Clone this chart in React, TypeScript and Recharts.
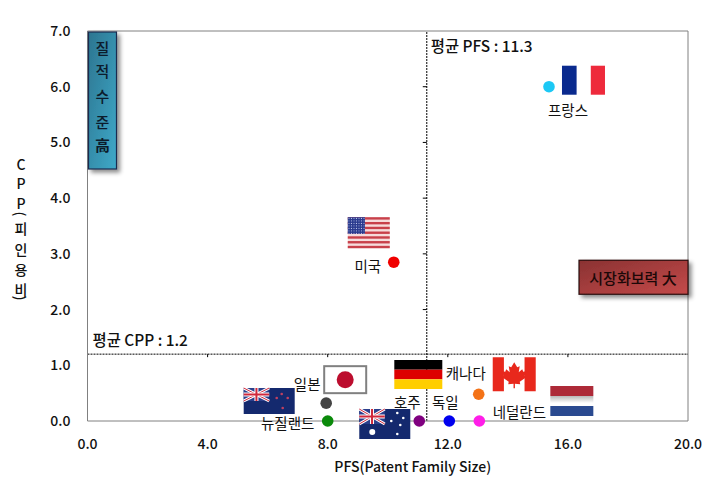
import {
  ScatterChart,
  Scatter,
  XAxis,
  YAxis,
  ReferenceLine,
  ReferenceDot,
} from "recharts"

const countries = ["프랑스", "미국", "캐나다", "일본", "뉴질랜드", "호주", "독일", "네덜란드"]
const pfsValues = [15.37, 10.2, 13.03, 7.95, 8.0, 11.05, 12.05, 13.05]
const cppValues = [6.0, 2.85, 0.48, 0.32, 0.0, 0.0, 0.0, 0.0]
const xTicks = [0, 4, 8, 12, 16, 20]
const yTicks = [0, 1, 2, 3, 4, 5, 6, 7]
const avgPfs = 11.3
const avgCpp = 1.2

const dotColors = ["#1cc8f5", "#f00000", "#f47216", "#444444", "#0a8a0a", "#800080", "#0000ee", "#ff1ee8"]
// label centre and flag box, relative to the dot
const labelOffsets = [[19, 23], [-26, 3], [-13, -22], [-19, -20], [-40, 1], [-12, -20], [-4, -20], [40, -10]]
const flagBoxes = [
  [13, -21, 43, 29],
  [-46, -45, 42, 31],
  [14, -37, 43, 34],
  [-3, -38, 44, 29],
  [-84, -33, 51, 26],
  [-60, -12, 51, 30],
  [-55, -61, 48, 29],
  [71, -35, 43, 30],
]

const tableData = countries.map((name, i) => ({ name, x: pfsValues[i], y: cppValues[i], i }))

const FONT = '"Noto Sans CJK KR", "Noto Sans", sans-serif'
const FRAME = "#808080"

const UnionJack = ({ w, h }: { w: number; h: number }) => (
  <g>
    <rect width={w} height={h} fill="#2b3f8c" />
    <path d={`M0 0L${w} ${h}M${w} 0L0 ${h}`} stroke="#fff" strokeWidth={3} />
    <path d={`M0 0L${w} ${h}M${w} 0L0 ${h}`} stroke="#d0283c" strokeWidth={1} />
    <path d={`M${w / 2} 0V${h}M0 ${h / 2}H${w}`} stroke="#fff" strokeWidth={4} />
    <path d={`M${w / 2} 0V${h}M0 ${h / 2}H${w}`} stroke="#d0283c" strokeWidth={2} />
  </g>
)

const Stars = ({ pts, r = 1.3, fill = "#fff" }: { pts: number[][]; r?: number; fill?: string }) => (
  <g>
    {pts.map(([x, y], k) => (
      <circle key={k} cx={x} cy={y} r={r} fill={fill} />
    ))}
  </g>
)

function Flag({ i, w, h }: { i: number; w: number; h: number }) {
  if (i === 0) {
    return (
      <g>
        <rect width={w * 0.34} height={h} fill="#0a2a8e" />
        <rect x={w * 0.67} width={w * 0.33} height={h} fill="#ee2a3c" />
      </g>
    )
  }
  if (i === 1) {
    return (
      <g>
        <rect width={w} height={h} fill="#f6dcdc" />
        {[0, 1, 2, 3, 4, 5, 6].map((k) => (
          <rect key={k} y={(k * 2 * h) / 13} width={w} height={h / 13} fill="#c8404a" />
        ))}
        <rect width={w * 0.41} height={(h * 7) / 13} fill="url(#usStars)" />
      </g>
    )
  }
  if (i === 2) {
    return (
      <g>
        <rect width={w * 0.26} height={h} fill="#e8281c" />
        <rect x={w * 0.74} width={w * 0.26} height={h} fill="#e8281c" />
        <path
          transform={`translate(${w / 2} ${h / 2})`}
          d="M0 -12L3 -7L5.5 -8L4.5 -2L8 -5L9 -2.5L12 -3L10.5 1.5L12 3L5.5 7.5L6 10L0.7 9.5V14H-0.7V9.5L-6 10L-5.5 7.5L-12 3L-10.5 1.5L-12 -3L-9 -2.5L-8 -5L-4.5 -2L-5.5 -8L-3 -7Z"
          fill="#e8281c"
        />
      </g>
    )
  }
  if (i === 3) {
    return (
      <g>
        <rect x={1} y={1} width={w - 2} height={h - 2} fill="#fff" stroke="#808080" strokeWidth={2} />
        <circle cx={w / 2} cy={h / 2} r={8.5} fill="#bc0d2e" />
      </g>
    )
  }
  if (i === 4) {
    return (
      <g>
        <rect width={w} height={h} fill="#14296e" />
        <UnionJack w={w / 2} h={h / 2} />
        <Stars pts={[[38, 6], [33, 10], [44, 10], [39, 20]]} fill="#c04060" />
      </g>
    )
  }
  if (i === 5) {
    return (
      <g>
        <rect width={w} height={h} fill="#14296e" />
        <UnionJack w={w / 2} h={h / 2} />
        <Stars pts={[[38, 4], [32, 12], [44, 9], [41, 16], [38, 25]]} />
        <Stars pts={[[13, 23]]} r={3} />
      </g>
    )
  }
  if (i === 6) {
    return (
      <g>
        <rect width={w} height={h / 3} fill="#000" />
        <rect y={h / 3} width={w} height={h / 3} fill="#dd0000" />
        <rect y={(2 * h) / 3} width={w} height={h / 3} fill="#ffce00" />
      </g>
    )
  }
  return (
    <g>
      <rect width={w} height={h / 3} fill="#ad2a38" />
      <rect y={h / 3} width={w} height={h / 3} fill="url(#dutchWhite)" />
      <rect y={(2 * h) / 3} width={w} height={h / 3} fill="#2a4a90" />
    </g>
  )
}

function CountryDot(props: any) {
  const { cx, cy, payload } = props
  const i = payload.i
  const [fx, fy, fw, fh] = flagBoxes[i]
  const [lx, ly] = labelOffsets[i]
  return (
    <g>
      <g transform={`translate(${cx + fx} ${cy + fy})`}>
        <Flag i={i} w={fw} h={fh} />
      </g>
      <circle cx={cx} cy={cy} r={5.8} fill={dotColors[i]} />
      <text
        x={cx + lx}
        y={cy + ly}
        textAnchor="middle"
        dominantBaseline="central"
        fontFamily={FONT}
        fontSize={14.5}
        fill="#111"
      >
        {payload.name}
      </text>
    </g>
  )
}

const AvgText = ({ cx, cy, dx, dy, text }: any) => (
  <text
    x={cx + dx}
    y={cy + dy}
    dominantBaseline="central"
    fontFamily={FONT}
    fontSize={15.4}
    fontWeight={500}
    fill="#111"
  >
    {text}
  </text>
)

const qualityChars = ["질", "적", "수", "준", "高"]
const qualityRows = [16, 39, 64, 90, 113]

const QualityBox = ({ cx, cy }: any) => (
  <g transform={`translate(${cx} ${cy})`}>
    <rect x={1} y={1} width={28} height={137} fill="url(#quality)" stroke="#1c2c50" strokeWidth={1.2} filter="url(#soft)" />
    {qualityChars.map((c, k) => (
      <text key={c} x={15} y={qualityRows[k]} textAnchor="middle" dominantBaseline="central" fontFamily={FONT} fontSize={15} fontWeight={c === "高" ? 700 : 500} fill="#0c1c2c">
        {c}
      </text>
    ))}
  </g>
)

const MarketBox = ({ cx, cy }: any) => (
  <g transform={`translate(${cx} ${cy})`}>
    <rect x={-109} y={-17} width={109} height={34} fill="url(#market)" stroke="#2a0c0c" strokeWidth={1.2} filter="url(#soft)" />
    <text x={-55} y={0} textAnchor="middle" dominantBaseline="central" fontFamily={FONT} fontSize={15} fontWeight={500} fill="#1c0808">
      시장화보력 大
    </text>
  </g>
)

const yTitleChars = ["C", "P", "P", "(", "피", "인", "용", "비", ")"]
const yTitleRows = [164, 183, 203, 214, 228, 249, 269, 289, 298]

const YTitle = () => (
  <g>
    {yTitleChars.map((c, k) => (
      <text
        key={k}
        x={21}
        y={yTitleRows[k]}
        textAnchor="middle"
        dominantBaseline="central"
        fontFamily={FONT}
        fontSize={14}
        fontWeight={500}
        fill="#111"
        transform={c === "(" || c === ")" ? `rotate(90 21 ${yTitleRows[k]})` : undefined}
      >
        {c}
      </text>
    ))}
  </g>
)

const tickStyle = { fontFamily: FONT, fontSize: 14, fontWeight: 500, fill: "#111" }

export default function App() {
  return (
    <div style={{ position: "absolute", left: 0, top: 0, width: 715, height: 487 }}>
      <ScatterChart width={715} height={487} margin={{ top: 31, right: 27, bottom: 36, left: 27.5 }}>
        <defs>
          <linearGradient id="quality" x1="0" y1="0" x2="1" y2="1">
            <stop offset="0" stopColor="#2c7590" />
            <stop offset="1" stopColor="#3fa9c9" />
          </linearGradient>
          <linearGradient id="market" x1="0" y1="0" x2="1" y2="1">
            <stop offset="0" stopColor="#8a3232" />
            <stop offset="1" stopColor="#c44a4a" />
          </linearGradient>
          <linearGradient id="dutchWhite" x1="0" y1="0" x2="0" y2="1">
            <stop offset="0" stopColor="#b8b8b8" />
            <stop offset="0.7" stopColor="#ffffff" />
          </linearGradient>
          <pattern id="usStars" width={2.5} height={2.5} patternUnits="userSpaceOnUse">
            <rect width={2.5} height={2.5} fill="#2a3a8e" />
            <circle cx={1.2} cy={1.2} r={0.5} fill="#c8d0f0" />
          </pattern>
          <filter id="soft" x="-30%" y="-30%" width="160%" height="160%">
            <feDropShadow dx={3} dy={3} stdDeviation={2} floodColor="#000" floodOpacity={0.45} />
          </filter>
        </defs>
        <XAxis
          type="number"
          dataKey="x"
          domain={[0, 20]}
          ticks={xTicks}
          height={30}
          tickFormatter={(v: number) => v.toFixed(1)}
          tick={tickStyle}
          tickLine={false}
          tickMargin={12}
          axisLine={{ stroke: FRAME }}
          label={{
            value: "PFS(Patent Family Size)",
            position: "insideBottom",
            offset: -21,
            dx: 25,
            style: { fontFamily: FONT, fontSize: 14, fontWeight: 500, fill: "#111" },
          }}
        />
        <YAxis
          type="number"
          dataKey="y"
          domain={[0, 7]}
          ticks={yTicks}
          width={60}
          tickFormatter={(v: number) => v.toFixed(1)}
          tick={tickStyle}
          tickLine={false}
          tickMargin={11}
          axisLine={{ stroke: FRAME }}
        />
        <ReferenceLine y={7} stroke={FRAME} />
        <ReferenceLine x={20} stroke={FRAME} />
        <ReferenceLine x={avgPfs} stroke="#000" strokeDasharray="2 1" />
        <ReferenceLine y={avgCpp} stroke="#000" strokeDasharray="2 1" />
        {xTicks.slice(1, -1).map((v) => (
          <ReferenceDot
            key={`x${v}`}
            x={v}
            y={avgCpp}
            shape={({ cx, cy }: any) => <line x1={cx} x2={cx} y1={cy} y2={cy + 3} stroke="#000" />}
          />
        ))}
        {yTicks.slice(1, -1).map((v) => (
          <ReferenceDot
            key={`y${v}`}
            x={avgPfs}
            y={v}
            shape={({ cx, cy }: any) => <line x1={cx - 4} x2={cx} y1={cy} y2={cy} stroke="#000" />}
          />
        ))}
        <ReferenceDot x={avgPfs} y={7} shape={(p: any) => <AvgText {...p} dx={4} dy={14} text={`평균 PFS : ${avgPfs}`} />} />
        <ReferenceDot x={0} y={avgCpp} shape={(p: any) => <AvgText {...p} dx={5} dy={-15} text={`평균 CPP : ${avgCpp}`} />} />
        <ReferenceDot x={0} y={7} shape={QualityBox} />
        <ReferenceDot x={20} y={2.58} shape={MarketBox} />
        <Scatter data={tableData} shape={CountryDot} isAnimationActive={false} />
        <YTitle />
      </ScatterChart>
    </div>
  )
}
